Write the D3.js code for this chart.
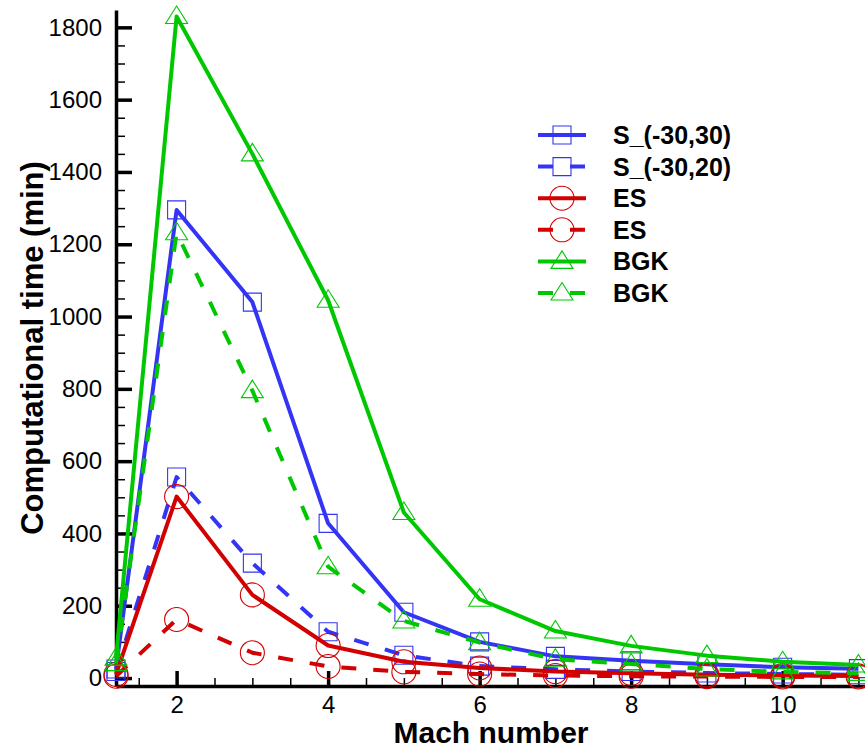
<!DOCTYPE html>
<html>
<head>
<meta charset="utf-8">
<script src="https://cdn.jsdelivr.net/npm/d3@7"></script>
<style>
    body { margin: 0; background: #fff; }
    svg { display: block; font-family: 'Liberation Sans', Arial, sans-serif; }
</style>
</head>
<body>
<script>
// chart data
const machNumbers = [1.2, 2, 3, 4, 5, 6, 7, 8, 9, 10, 11];
const s3030Time = [25, 1295, 1040, 428, 182, 100, 60, 48, 38, 30, 26];
const s3020Time = [18, 556, 318, 128, 63, 33, 24, 18, 14, 11, 9];
const esSolidTime = [10, 502, 230, 90, 45, 28, 18, 13, 9, 7, 6];
const esDashedTime = [5, 162, 70, 32, 17, 11, 7, 5, 4, 3, 3];
const bgkSolidTime = [55, 1830, 1450, 1045, 458, 218, 130, 89, 62, 45, 36];
const bgkDashedTime = [40, 1232, 795, 308, 158, 98, 52, 39, 25, 17, 13];
const seriesLabels = ['S_(-30,30)', 'S_(-30,20)', 'ES', 'ES', 'BGK', 'BGK'];
const xTickValues = [2, 4, 6, 8, 10];
const yTickValues = [0, 200, 400, 600, 800, 1000, 1200, 1400, 1600, 1800];

class Chart {
    constructor() {
        this._params = {
            width: 865,
            height: 749,
            plotLeft: 116,
            plotRight: 866,
            plotTop: 10,
            plotBottom: 686,
            xDomain: [1.2, 11.1],
            yDomain: [-22, 1848],
            lineWidth: 4,
            dash: '15,17',
            markerStroke: 1.1,
            legendX: 538,
            legendY: 135,
            legendStep: 31.6
        };
        this._series = [
            {values: s3030Time, color: '#3434f4', dashed: false, marker: 'square'},
            {values: s3020Time, color: '#3434f4', dashed: true, marker: 'square'},
            {values: esSolidTime, color: '#d20000', dashed: false, marker: 'circle'},
            {values: esDashedTime, color: '#d20000', dashed: true, marker: 'circle'},
            {values: bgkSolidTime, color: '#00c800', dashed: false, marker: 'triangle'},
            {values: bgkDashedTime, color: '#00c800', dashed: true, marker: 'triangle'}
        ];
        this._svg = d3.select('body').append('svg')
            .attr('width', this._params.width)
            .attr('height', this._params.height);
        this._setupScales();
        this._setupAxes();
        this._setupSeries();
        this._setupLegend();
    }

    _setupScales() {
        const p = this._params;
        this._x = d3.scaleLinear().domain(p.xDomain).range([p.plotLeft, p.plotRight]);
        this._y = d3.scaleLinear().domain(p.yDomain).range([p.plotBottom, p.plotTop]);
    }

    _setupAxes() {
        const p = this._params;
        // minor ticks first, then the major ones on top
        const xMinor = d3.range(1.5, 11.01, 0.5).filter(v => v % 2 !== 0);
        const yMinor = d3.range(50, 1801, 50).filter(v => v % 200 !== 0);
        this._svg.append('g')
            .attr('transform', `translate(0,${p.plotBottom})`)
            .call(d3.axisBottom(this._x).tickValues(xMinor).tickFormat('').tickSize(-8).tickSizeOuter(0))
            .call(g => g.select('.domain').remove())
            .call(g => g.selectAll('line').attr('stroke', '#000').attr('stroke-width', 1.5));
        this._svg.append('g')
            .attr('transform', `translate(${p.plotLeft},0)`)
            .call(d3.axisLeft(this._y).tickValues(yMinor).tickFormat('').tickSize(-9).tickSizeOuter(0))
            .call(g => g.select('.domain').remove())
            .call(g => g.selectAll('line').attr('stroke', '#000').attr('stroke-width', 1.5));
        // major x axis
        this._svg.append('g')
            .attr('transform', `translate(0,${p.plotBottom})`)
            .call(d3.axisBottom(this._x).tickValues(xTickValues).tickFormat(d3.format('d'))
                .tickSize(-15).tickSizeOuter(0).tickPadding(10))
            .call(g => g.select('.domain').attr('stroke', '#000').attr('stroke-width', 3.5))
            .call(g => g.selectAll('.tick line').attr('stroke', '#000').attr('stroke-width', 3.5))
            .call(g => g.selectAll('text').attr('fill', '#000').attr('font-size', 24)
                .attr('font-family', 'Liberation Sans, Arial, sans-serif'));
        // major y axis
        this._svg.append('g')
            .attr('transform', `translate(${p.plotLeft},0)`)
            .call(d3.axisLeft(this._y).tickValues(yTickValues).tickFormat(d3.format('d'))
                .tickSize(-16).tickSizeOuter(0).tickPadding(14))
            .call(g => g.select('.domain').attr('stroke', '#000').attr('stroke-width', 3.5))
            .call(g => g.selectAll('.tick line').attr('stroke', '#000').attr('stroke-width', 3.5))
            .call(g => g.selectAll('text').attr('fill', '#000').attr('font-size', 24)
                .attr('font-family', 'Liberation Sans, Arial, sans-serif'));
        // axis titles
        this._svg.append('text')
            .attr('x', (p.plotLeft + p.plotRight) / 2)
            .attr('y', 743)
            .attr('text-anchor', 'middle')
            .attr('font-size', 30)
            .attr('font-weight', 'bold')
            .text('Mach number');
        this._svg.append('text')
            .attr('transform', `translate(43,${(p.plotTop + p.plotBottom) / 2}) rotate(-90)`)
            .attr('text-anchor', 'middle')
            .attr('font-size', 31)
            .attr('font-weight', 'bold')
            .text('Computational time (min)');
    }

    _markerPath(shape) {
        switch (shape) {
        case 'square':
            return 'M-9,-9H9V9H-9Z';
        case 'circle':
            return 'M12,0A12,12 0 1,1 -12,0A12,12 0 1,1 12,0Z';
        default:
            return 'M0,-10.5L11,7L-11,7Z';
        }
    }

    _setupSeries() {
        const p = this._params;
        const line = d3.line()
            .x((d, i) => this._x(machNumbers[i]))
            .y(d => this._y(d));
        this._series.forEach((s) => {
            const group = this._svg.append('g');
            // hollow symbols
            group.selectAll('path.marker')
                .data(s.values)
                .enter()
                .append('path')
                .attr('class', 'marker')
                .attr('d', this._markerPath(s.marker))
                .attr('transform', (d, i) => `translate(${this._x(machNumbers[i])},${this._y(d)})`)
                .attr('fill', 'none')
                .attr('stroke', s.color)
                .attr('stroke-width', p.markerStroke);
            // the curve itself
            group.append('path')
                .datum(s.values)
                .attr('d', line)
                .attr('fill', 'none')
                .attr('stroke', s.color)
                .attr('stroke-width', p.lineWidth)
                .attr('stroke-linejoin', 'round')
                .attr('stroke-dasharray', s.dashed ? p.dash : null);
        });
    }

    _setupLegend() {
        const p = this._params;
        const legend = this._svg.append('g');
        this._series.forEach((s, i) => {
            const y = p.legendY + i * p.legendStep;
            legend.append('path')
                .attr('d', this._markerPath(s.marker))
                .attr('transform', `translate(${p.legendX + 24},${y})`)
                .attr('fill', 'none')
                .attr('stroke', s.color)
                .attr('stroke-width', p.markerStroke);
            legend.append('line')
                .attr('x1', p.legendX)
                .attr('x2', p.legendX + 48)
                .attr('y1', y)
                .attr('y2', y)
                .attr('stroke', s.color)
                .attr('stroke-width', p.lineWidth)
                .attr('stroke-dasharray', s.dashed ? p.dash : null);
            legend.append('text')
                .attr('x', p.legendX + 75)
                .attr('y', y + 9)
                .attr('font-size', 25)
                .attr('font-weight', 'bold')
                .text(seriesLabels[i]);
        });
    }
}

new Chart();
</script>
</body>
</html>
